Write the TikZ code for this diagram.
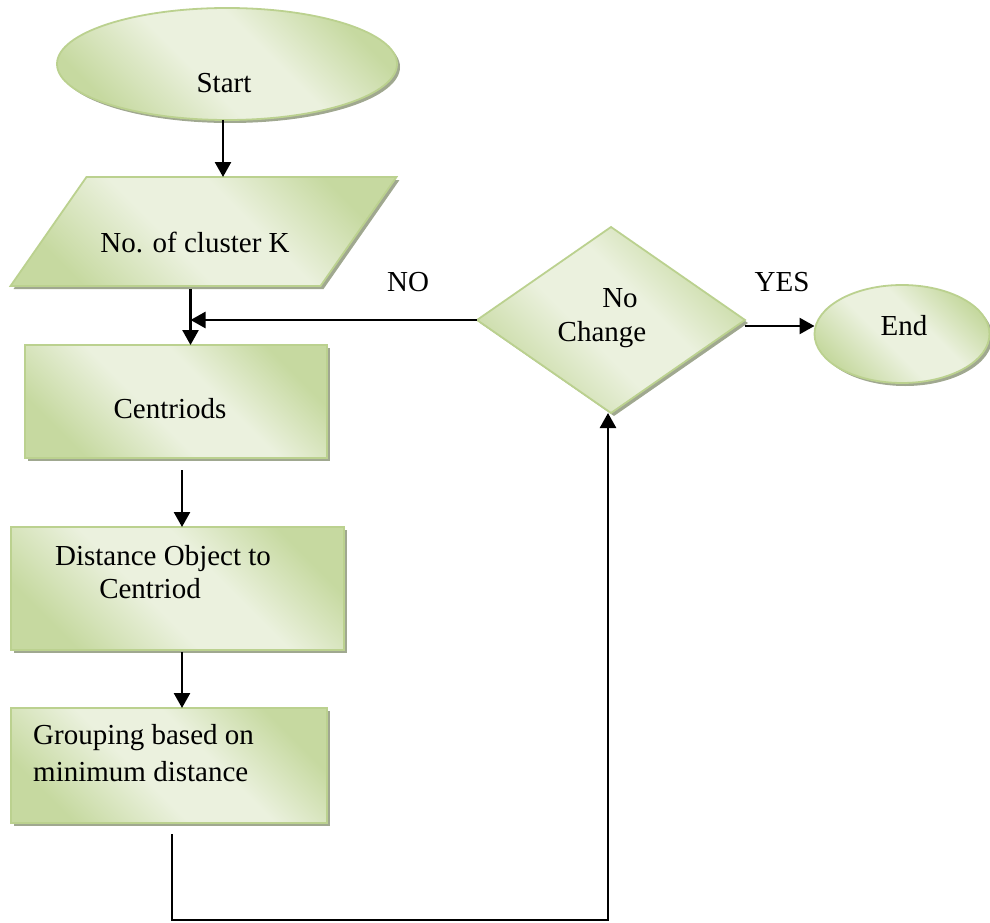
\documentclass[tikz,border=0pt]{standalone}
\usepackage{fontspec}
\setmainfont{Liberation Serif}
\usetikzlibrary{shapes.geometric,shadows,arrows.meta}
\definecolor{oliveLight}{HTML}{EBF1DE}
\definecolor{oliveDark}{HTML}{C6D9A0}
\definecolor{oliveEdge}{HTML}{BBD18F}
\definecolor{oliveShadow}{HTML}{A0A890}
\pgfdeclarehorizontalshading{olivefx}{100bp}{color(0bp)=(oliveDark); color(25bp)=(oliveDark); color(44bp)=(oliveLight); color(58bp)=(oliveLight); color(75bp)=(oliveDark); color(100bp)=(oliveDark)}
\begin{document}
\begin{tikzpicture}[x=1pt,y=-1pt,
  box/.style={draw=oliveEdge, line width=1.8pt, shading=olivefx, shading angle=45,
    inner sep=0pt, outer sep=0pt,
    drop shadow={shadow xshift=3pt, shadow yshift=-3pt, fill=oliveShadow, opacity=1}},
  lbl/.style={font=\fontsize{29}{34}\selectfont, inner sep=0pt, anchor=base},
  arr/.style={line width=2.6pt, -{Triangle[width=16pt,length=15pt]}},
]
\useasboundingbox (0,0) rectangle (990,923);

% shapes of the flowchart
\node[box, ellipse, minimum width=340pt, minimum height=112pt] (start) at (227,64) {};
\begin{scope}[shift={(203.5,231.5)}, xslant=0.697]
  \node[box, transform shape, minimum width=310pt, minimum height=109pt] (input) at (0,0) {};
\end{scope}
\node[box, minimum width=302pt, minimum height=113pt] (cent) at (176,401.5) {};
\node[box, minimum width=333pt, minimum height=123pt] (dist) at (177.5,588.5) {};
\node[box, minimum width=316pt, minimum height=115pt] (group) at (169,765.5) {};
\node[box, diamond, minimum width=268pt, minimum height=186pt] (dec) at (611,320) {};
\node[box, ellipse, minimum width=175pt, minimum height=98pt] (endn) at (902,334) {};

% texts
\node[lbl] (tStart) at (224,93) {Start};
\node[lbl] (tInput) at (195,252) {No. of cluster K};
\node[lbl] (tCent) at (170,418) {Centriods};
\node[lbl] (tDist1) at (163,565) {Distance Object to};
\node[lbl] (tDist2) at (150,598) {Centriod};
\node[lbl, anchor=base west] (tGrp1) at (33,744) {Grouping based on};
\node[lbl, anchor=base west] (tGrp2) at (33,781) {minimum distance};
\node[lbl] (tNo1) at (620,307) {No};
\node[lbl] (tNo2) at (602,341) {Change};
\node[lbl] (tEnd) at (904,335) {End};
\node[lbl] (tNO) at (408,291) {NO};
\node[lbl] (tYES) at (782,291) {YES};

% connectors
\coordinate (vtop) at ([xshift=25pt,yshift=-3pt]input.south);
\coordinate (loopBase) at (608,920);
\draw[arr] ([xshift=-4pt]start.south) -- ([xshift=-4pt]start.south |- input.north);
\draw[arr] (vtop) -- (vtop |- cent.north);
\draw[arr] (dec.west) -- (dec.west -| vtop);
\draw[arr] ([xshift=6pt,yshift=-12pt]cent.south) -- ([xshift=6pt]cent.south |- dist.north);
\draw[arr] ([xshift=4.5pt,yshift=-2pt]dist.south) -- ([xshift=4.5pt]dist.south |- group.north);
\draw[arr] ([xshift=3pt,yshift=-11pt]group.south) |- (loopBase) -- (loopBase |- dec.south);
\draw[arr] ([yshift=-6pt]dec.east) -- ([yshift=-6pt]dec.east -| endn.west);
\end{tikzpicture}
\end{document}
